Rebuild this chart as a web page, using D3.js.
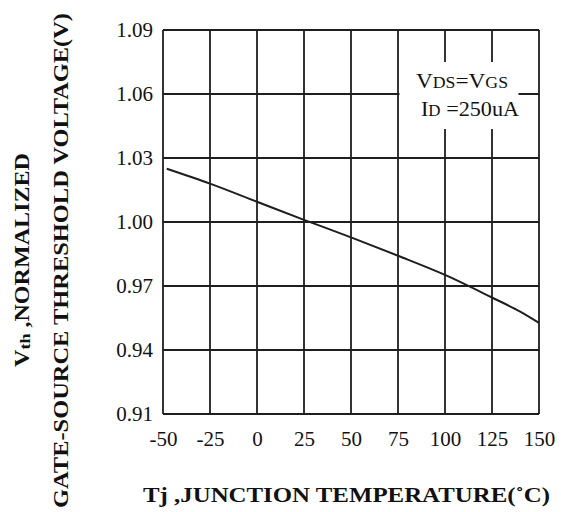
<!DOCTYPE html>
<html>
<head>
<meta charset="utf-8">
<script src="https://cdn.jsdelivr.net/npm/d3@7"></script>
<style>
  html, body { margin: 0; padding: 0; background: #fff; }
  svg { display: block; }
  text { font-family: "Liberation Serif", "Times New Roman", serif; fill: #111; }
</style>
</head>
<body>
<svg id="chart" width="561" height="512"></svg>
<script>
// ---- data ----
const xTicks = [-50, -25, 0, 25, 50, 75, 100, 125, 150];
const yTicks = [0.91, 0.94, 0.97, 1.00, 1.03, 1.06, 1.09];
const temps = [-48, -25, 0, 25, 50, 75, 100, 125, 140, 150];
const vth   = [1.025, 1.018, 1.0095, 1.001, 0.9928, 0.9842, 0.9752, 0.9646, 0.9580, 0.9527];
const xTitle = "Tj ,JUNCTION TEMPERATURE(˚C)";
const yTitle2 = "GATE-SOURCE THRESHOLD VOLTAGE(V)";

// ---- layout ----
const svg = d3.select("#chart");
const L = 163, R = 539, T = 30, B = 414;
const ink = "#1e1e1e";

const x = d3.scaleLinear().domain([-50, 150]).range([L, R]);
const y = d3.scaleLinear().domain([0.91, 1.09]).range([B, T]);

// grid
const g = svg.append("g");
g.selectAll("line.v").data(xTicks).join("line")
  .attr("x1", d => x(d)).attr("x2", d => x(d))
  .attr("y1", T).attr("y2", B)
  .attr("stroke", ink).attr("stroke-width", 1.8);
g.selectAll("line.h").data(yTicks).join("line")
  .attr("x1", L).attr("x2", R)
  .attr("y1", d => y(d)).attr("y2", d => y(d))
  .attr("stroke", ink).attr("stroke-width", 1.8);

// legend white box covering grid
svg.append("rect")
  .attr("x", x(75) + 1.5).attr("y", y(1.075))
  .attr("width", 119).attr("height", 67)
  .attr("fill", "#fff");

// curve
const pts = temps.map((t, i) => [t, vth[i]]);
svg.append("path")
  .datum(pts)
  .attr("fill", "none")
  .attr("stroke", ink)
  .attr("stroke-width", 2)
  .attr("d", d3.line().x(d => x(d[0])).y(d => y(d[1])).curve(d3.curveMonotoneX));

// axes (tick labels only)
const xAxis = svg.append("g").attr("transform", `translate(0,${B})`)
  .call(d3.axisBottom(x).tickValues(xTicks).tickSize(0).tickPadding(17).tickFormat(d => String(d)));
xAxis.select(".domain").remove();
xAxis.selectAll("text").style("font-family", "'Liberation Serif', serif").style("font-size", "21px").attr("fill", "#111");

const yAxis = svg.append("g").attr("transform", `translate(${L},0)`)
  .call(d3.axisLeft(y).tickValues(yTicks).tickSize(0).tickPadding(10).tickFormat(d3.format(".2f")));
yAxis.select(".domain").remove();
yAxis.selectAll("text").style("font-family", "'Liberation Serif', serif").style("font-size", "21px").attr("fill", "#111");

// x title
svg.append("text")
  .attr("x", 143).attr("y", 501.5)
  .attr("textLength", 407).attr("lengthAdjust", "spacingAndGlyphs")
  .style("font-size", "20px").style("font-weight", "bold")
  .text(xTitle);

// y title line 1
const t1 = svg.append("text")
  .attr("transform", "translate(29,367) rotate(-90)")
  .attr("textLength", 214).attr("lengthAdjust", "spacingAndGlyphs")
  .style("font-size", "20px").style("font-weight", "bold");
t1.append("tspan").text("V");
t1.append("tspan").style("font-size", "15px").attr("dy", 1).text("th");
t1.append("tspan").attr("dy", -1).text(" ,NORMALIZED");

// y title line 2
svg.append("text")
  .attr("transform", "translate(68,508) rotate(-90)")
  .attr("textLength", 495).attr("lengthAdjust", "spacingAndGlyphs")
  .style("font-size", "20px").style("font-weight", "bold")
  .text(yTitle2);

// legend text
const l1 = svg.append("text").attr("x", 416).attr("y", 88)
  .attr("textLength", 92).attr("lengthAdjust", "spacingAndGlyphs")
  .style("font-size", "21px");
l1.append("tspan").text("V");
l1.append("tspan").style("font-size", "16px").text("DS");
l1.append("tspan").text("=V");
l1.append("tspan").style("font-size", "16px").text("GS");

const l2 = svg.append("text").attr("x", 421).attr("y", 115.5)
  .attr("textLength", 98).attr("lengthAdjust", "spacingAndGlyphs")
  .style("font-size", "21px");
l2.append("tspan").text("I");
l2.append("tspan").style("font-size", "16px").text("D");
l2.append("tspan").text(" =250uA");
</script>
</body>
</html>
